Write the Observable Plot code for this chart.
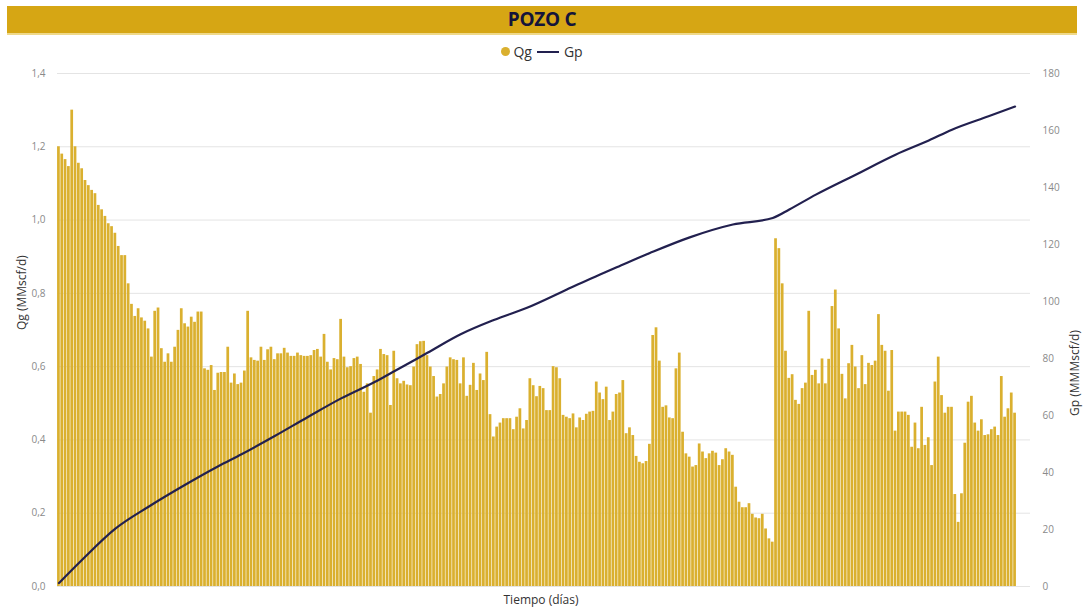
<!DOCTYPE html>
<html>
<head>
<meta charset="utf-8">
<script src="https://cdn.jsdelivr.net/npm/d3@7"></script>
<script src="https://cdn.jsdelivr.net/npm/@observablehq/plot@0.6"></script>
<style>
  html, body { margin: 0; padding: 0; background: #fff; width: 1084px; height: 612px; overflow: hidden; font-family: "Open Sans", "Noto Sans", sans-serif; }
  #title { position: absolute; left: 7px; top: 6px; width: 1070px; height: 27px; background: #D6A614; border-bottom: 2px solid #EFD98A; color: #14143a; font-weight: 700; font-size: 19px; line-height: 27px; text-align: center; letter-spacing: -0.3px; }
  #legend { position: absolute; top: 42px; left: 0; width: 1084px; display: flex; justify-content: center; align-items: center; font-size: 14px; color: #333; }
  #legend .dot { width: 9px; height: 9px; border-radius: 50%; background: #DAB02F; margin-right: 3px; }
  #legend .ln { width: 22px; height: 2px; background: #22204F; margin: 0 5px 0 5px; }
  #chart { position: absolute; top: 60px; left: 0; }
</style>
</head>
<body>
<div id="title">POZO C</div>
<div id="legend"><span class="dot"></span><span>Qg</span><span class="ln"></span><span>Gp</span></div>
<div id="chart"></div>
<script>
// Daily gas rate Qg (MMscf/d), one bar per day
const qg = [
  1.20,1.18,1.165,1.146,1.30,1.20,1.155,1.14,1.108,1.094,
  1.081,1.072,1.04,1.028,1.01,0.99,0.982,0.964,0.928,0.903,
  0.903,0.826,0.77,0.737,0.758,0.733,0.724,0.703,0.626,0.751,
  0.76,0.649,0.612,0.635,0.612,0.653,0.699,0.758,0.717,0.708,
  0.735,0.721,0.749,0.749,0.594,0.59,0.603,0.535,0.582,0.584,
  0.584,0.653,0.555,0.58,0.551,0.555,0.588,0.751,0.624,0.617,
  0.615,0.653,0.617,0.646,0.653,0.619,0.635,0.635,0.65,0.637,
  0.628,0.628,0.637,0.63,0.628,0.628,0.63,0.644,0.647,0.626,
  0.688,0.612,0.591,0.622,0.619,0.729,0.626,0.597,0.6,0.622,
  0.626,0.606,0.53,0.553,0.473,0.573,0.591,0.647,0.633,0.63,
  0.494,0.642,0.567,0.553,0.56,0.55,0.548,0.599,0.66,0.668,
  0.669,0.63,0.599,0.573,0.517,0.524,0.553,0.599,0.624,0.619,
  0.617,0.553,0.624,0.519,0.549,0.609,0.535,0.58,0.562,0.639,
  0.469,0.408,0.435,0.446,0.458,0.458,0.458,0.428,0.462,0.485,
  0.43,0.453,0.567,0.548,0.518,0.546,0.54,0.48,0.48,0.6,
  0.597,0.567,0.467,0.462,0.458,0.471,0.433,0.46,0.453,0.47,
  0.476,0.478,0.558,0.528,0.51,0.544,0.453,0.476,0.524,0.528,
  0.562,0.417,0.433,0.412,0.355,0.339,0.335,0.341,0.388,0.685,
  0.706,0.615,0.489,0.493,0.46,0.458,0.594,0.637,0.421,0.362,
  0.353,0.326,0.33,0.389,0.367,0.349,0.362,0.369,0.364,0.33,
  0.346,0.376,0.367,0.358,0.271,0.23,0.215,0.215,0.226,0.197,
  0.187,0.185,0.197,0.157,0.13,0.121,0.949,0.922,0.826,0.642,
  0.568,0.578,0.508,0.497,0.54,0.555,0.751,0.576,0.59,0.553,
  0.621,0.553,0.62,0.764,0.809,0.703,0.579,0.512,0.608,0.658,
  0.599,0.54,0.63,0.551,0.609,0.603,0.615,0.742,0.658,0.642,
  0.533,0.644,0.424,0.476,0.476,0.476,0.467,0.38,0.446,0.376,
  0.489,0.385,0.406,0.33,0.558,0.626,0.521,0.473,0.489,0.489,
  0.251,0.175,0.253,0.391,0.503,0.519,0.446,0.424,0.455,0.412,
  0.414,0.428,0.435,0.412,0.573,0.462,0.485,0.528,0.473
];
const days = d3.range(qg.length);

// Cumulative gas Gp (MMMscf) at sample days
const gpDay = [0,7,17,27,37,48,55,65,75,85,96,101,111,121,131,141,153,163,168,178,190,203,215,220,228,240,252,262,269,280,288];
const gpVal = [1.2,9.4,20.3,28,35,42.2,46.4,52.8,59.5,66,72.3,75.5,82,88.5,93.5,97.8,104.2,109.5,112,117,122.5,127,129.3,132.3,137.5,144.5,151.5,156.5,160.3,165,168.4];

// Axis ticks
const qgTicks = [0,0.2,0.4,0.6,0.8,1.0,1.2,1.4];
const gpTicks = [0,20,40,60,80,100,120,140,160,180];
const qgMax = 1.4, gpMax = 180;
const toQ = v => v * qgMax / gpMax;

const chart = Plot.plot({
  width: 1084,
  height: 552,
  marginTop: 13,
  marginBottom: 26,
  marginLeft: 57,
  marginRight: 54,
  style: { fontFamily: "'Open Sans', 'Noto Sans', sans-serif", background: "transparent" },
  x: { type: "band", domain: days, paddingInner: 0.18, paddingOuter: 0.02, insetRight: 14, axis: null },
  y: { domain: [0, qgMax] },
  marks: [
    Plot.gridY(qgTicks, { stroke: "#e4e4e4", strokeOpacity: 1 }),
    Plot.barY(qg, { x: (d, i) => days[i], y: d => d, fill: "#DAB02F" }),
    Plot.line(gpDay, { x: d => d, y: (d, i) => toQ(gpVal[i]), stroke: "#22204F", strokeWidth: 2.2, curve: "monotone-x" }),
    Plot.axisY(qgTicks, { anchor: "left", tickSize: 0, tickPadding: 12, fontSize: 10, color: "#8a8a8a", label: null,
      tickFormat: d => d.toFixed(1).replace(".", ",") }),
    Plot.axisY(gpTicks.map(toQ), { anchor: "right", tickSize: 0, tickPadding: 12, fontSize: 10, color: "#8a8a8a", label: null,
      tickFormat: d => String(Math.round(d * gpMax / qgMax)) }),
    Plot.text(["Qg (MMscf/d)"], { frameAnchor: "left", dx: -35, rotate: -90, fontSize: 12, fill: "#333" }),
    Plot.text(["Gp (MMMscf/d)"], { frameAnchor: "right", dx: 45, rotate: -90, fontSize: 12, fill: "#333" }),
    Plot.text(["Tiempo (días)"], { frameAnchor: "bottom", dy: 17, dx: -3, fontSize: 12, fill: "#333" })
  ]
});
document.getElementById("chart").appendChild(chart);
</script>
</body>
</html>
